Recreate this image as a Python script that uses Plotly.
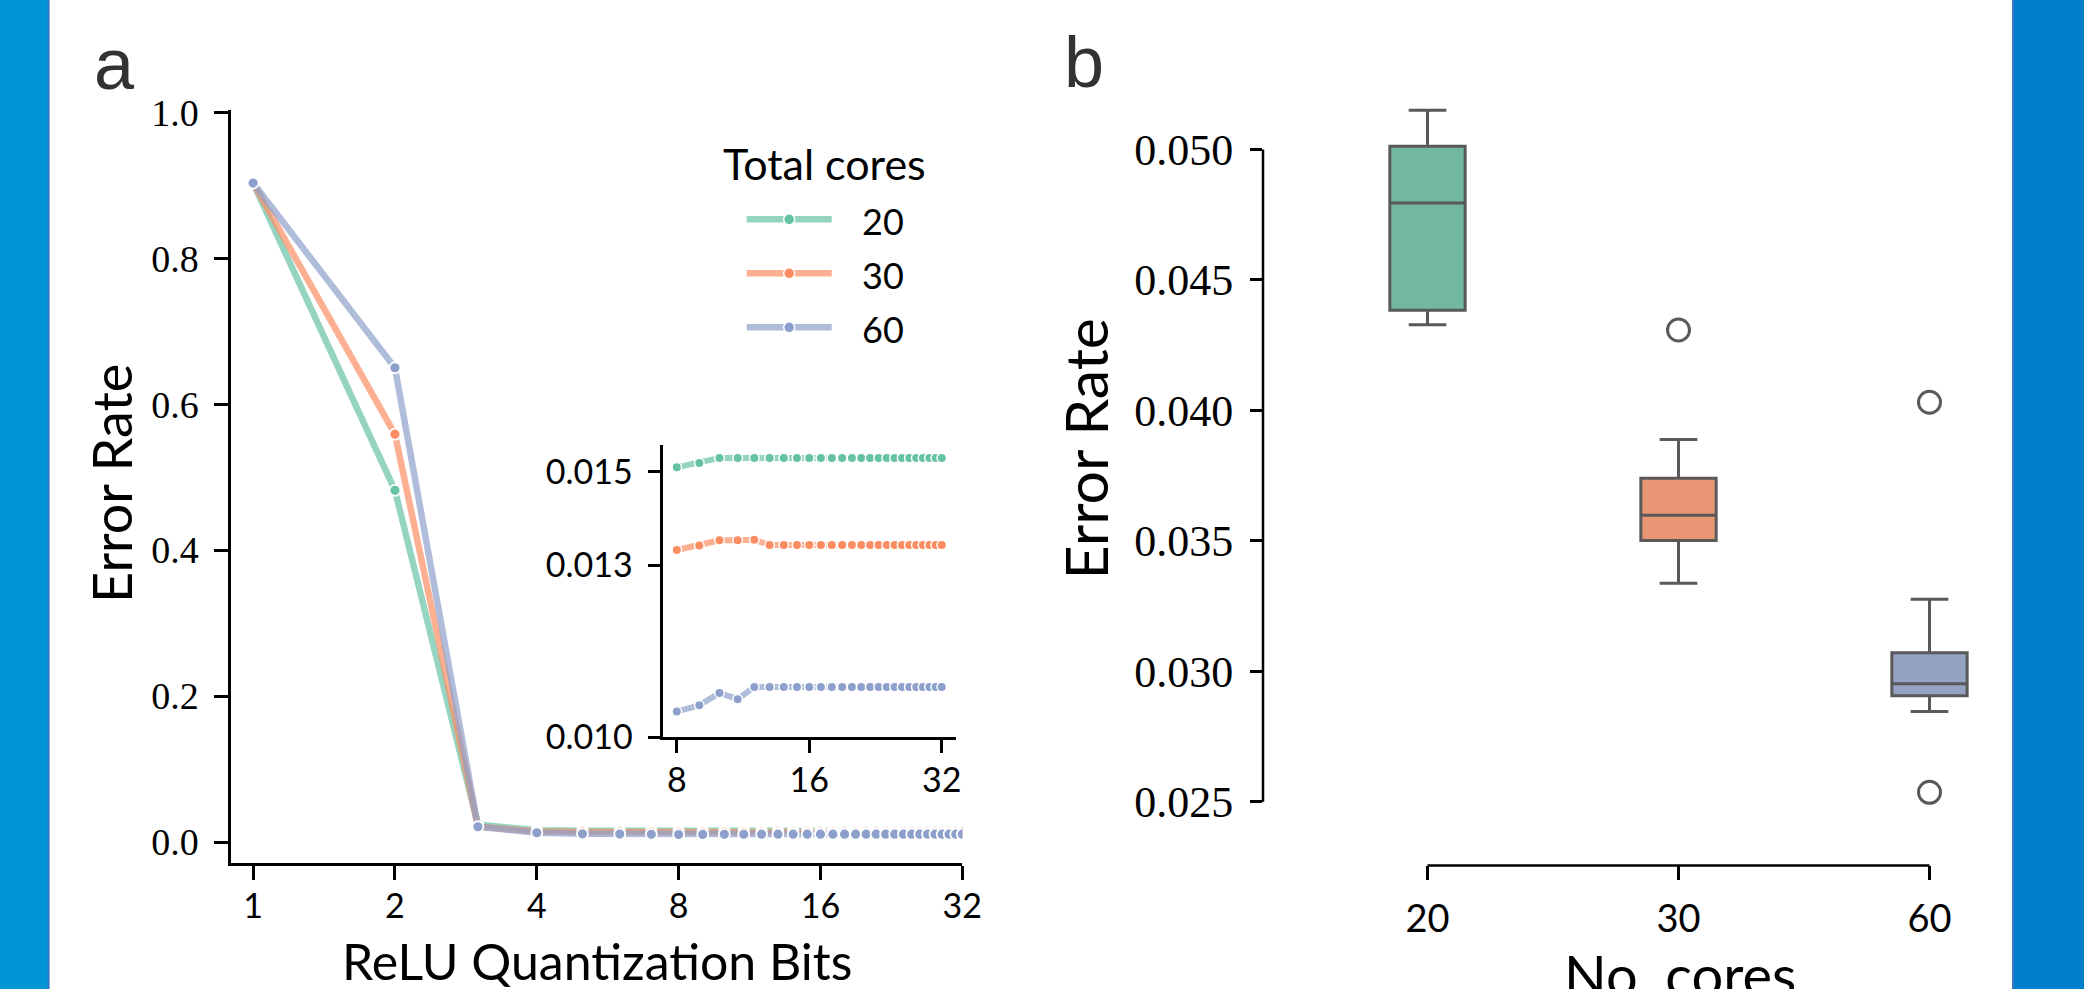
import plotly.graph_objects as go

W, H = 2084, 989

# ---------------- data ----------------
bits = [1, 2, 3, 4, 5, 6, 7, 8, 9, 10, 11, 12, 13, 14, 15, 16,
        17, 18, 19, 20, 21, 22, 23, 24, 25, 26, 27, 28, 29, 30, 31, 32]
err_20 = [0.903, 0.482, 0.024, 0.0162, 0.0157, 0.0154, 0.0152, 0.0151, 0.0152, 0.01532,
          0.01532, 0.01532, 0.01532, 0.01532, 0.01532, 0.01532, 0.01532, 0.01532, 0.01532, 0.01532,
          0.01532, 0.01532, 0.01532, 0.01532, 0.01532, 0.01532, 0.01532, 0.01532, 0.01532, 0.01532,
          0.01532, 0.01532]
err_30 = [0.903, 0.559, 0.021, 0.0145, 0.0139, 0.0136, 0.0134, 0.01331, 0.0134, 0.01351,
          0.01351, 0.01352, 0.01341, 0.01341, 0.01341, 0.01341, 0.01341, 0.01341, 0.01341, 0.01341,
          0.01341, 0.01341, 0.01341, 0.01341, 0.01341, 0.01341, 0.01341, 0.01341, 0.01341, 0.01341,
          0.01341, 0.01341]
err_60 = [0.903, 0.650, 0.021, 0.0128, 0.0114, 0.0110, 0.0106, 0.0104, 0.0105, 0.0107,
          0.0106, 0.0108, 0.0108, 0.0108, 0.0108, 0.0108, 0.0108, 0.0108, 0.0108, 0.0108,
          0.0108, 0.0108, 0.0108, 0.0108, 0.0108, 0.0108, 0.0108, 0.0108, 0.0108, 0.0108,
          0.0108, 0.0108]
series_names = ["20", "30", "60"]

main_xticks = [1, 2, 4, 8, 16, 32]
main_yticks = [0.0, 0.2, 0.4, 0.6, 0.8, 1.0]
inset_xticks = [8, 16, 32]
inset_yticks = [0.010, 0.013, 0.015]

cores = ["20", "30", "60"]
box_lo = [0.04328, 0.03337, 0.02846]
box_q1 = [0.04384, 0.03501, 0.02906]
box_med = [0.04795, 0.03598, 0.02952]
box_q3 = [0.05012, 0.03740, 0.03071]
box_hi = [0.05150, 0.03888, 0.03276]
outlier_x = ["30", "60", "60"]
outlier_y = [0.04308, 0.04031, 0.02536]
box_yticks = [0.025, 0.030, 0.035, 0.040, 0.045, 0.050]

# ---------------- style ----------------
SERIF = "Liberation Serif"
SANS = "Lato"
line_rgba = ["rgba(102,194,165,0.7)", "rgba(252,141,98,0.7)", "rgba(141,160,203,0.7)"]
marker_col = ["#66c2a5", "#fc8d62", "#8da0cb"]
box_fill = ["#71b7a1", "#e99675", "#95a3c3"]
GREY = "#595959"


def px(x):
    return x / W


def py(y):
    return 1 - y / H


fig = go.Figure()

series = [err_20, err_30, err_60]
for i, ys in enumerate(series):
    fig.add_trace(go.Scatter(
        x=bits, y=ys, mode="lines+markers", name=series_names[i],
        line=dict(color=line_rgba[i], width=6.5),
        marker=dict(color=marker_col[i], size=11, line=dict(color="white", width=1.8)),
        xaxis="x", yaxis="y", showlegend=False))
for i, ys in enumerate(series):
    fig.add_trace(go.Scatter(
        x=bits[7:], y=ys[7:], mode="lines+markers", name=series_names[i],
        line=dict(color=line_rgba[i], width=6),
        marker=dict(color=marker_col[i], size=9.5, line=dict(color="white", width=1.5)),
        xaxis="x3", yaxis="y3", showlegend=False))

for i, c in enumerate(cores):
    fig.add_trace(go.Box(
        x=[c], q1=[box_q1[i]], median=[box_med[i]], q3=[box_q3[i]],
        lowerfence=[box_lo[i]], upperfence=[box_hi[i]],
        width=0.3, whiskerwidth=0.5, fillcolor=box_fill[i],
        line=dict(color=GREY, width=3), boxpoints=False,
        xaxis="x2", yaxis="y2", showlegend=False))
fig.add_trace(go.Scatter(
    x=outlier_x, y=outlier_y, mode="markers",
    marker=dict(symbol="circle-open", size=22, color=GREY, line=dict(width=3, color=GREY)),
    xaxis="x2", yaxis="y2", showlegend=False))

axis_common = dict(showgrid=False, zeroline=False, automargin=False,
                   ticks="outside", tickcolor="black", tickwidth=2.5, linecolor="black",
                   linewidth=2.5)

fig.update_layout(
    width=W, height=H, template="none",
    margin=dict(l=0, r=0, t=0, b=0),
    paper_bgcolor="white", plot_bgcolor="rgba(0,0,0,0)",
    showlegend=False,
    xaxis=dict(axis_common, type="log", domain=[px(231), px(962.3)], range=[-0.0469, 1.50515],
               anchor="y", showline=True, ticklen=14, tickvals=main_xticks,
               ticktext=[str(v) for v in main_xticks],
               tickfont=dict(family=SANS, size=34, color="black"), ticklabelstandoff=-2),
    yaxis=dict(axis_common, domain=[py(862.9), py(110.4)], range=[-0.0285, 1.0026],
               anchor="x", showline=True, ticklen=14, tickvals=main_yticks,
               ticktext=["%.1f" % v for v in main_yticks],
               tickfont=dict(family=SERIF, size=38, color="black"), ticklabelstandoff=8),
    xaxis3=dict(axis_common, type="log", domain=[px(663.3), px(956)], range=[0.8724, 1.5375],
                anchor="y3", showline=True, ticklen=13, tickvals=inset_xticks,
                ticktext=[str(v) for v in inset_xticks],
                tickfont=dict(family=SANS, size=34, color="black"), ticklabelstandoff=-2),
    yaxis3=dict(axis_common, type="log", domain=[py(737.3), py(445)], range=[-2, -1.8062],
                anchor="x3", showline=True, ticklen=13, tickvals=inset_yticks,
                ticktext=["%.3f" % v for v in inset_yticks],
                tickfont=dict(family=SANS, size=34, color="black"), ticklabelstandoff=8),
    xaxis2=dict(axis_common, type="category", categoryorder="array", categoryarray=cores,
                domain=[px(1263), px(2000)], range=[-0.6554, 2.2809], anchor="y2",
                showline=False, ticklen=14, tickfont=dict(family=SANS, size=38, color="black"),
                ticklabelstandoff=6),
    yaxis2=dict(axis_common, domain=[py(865.4), py(100)], range=[0.022558, 0.051897],
                anchor="x2", showline=False, ticklen=12, tickvals=box_yticks,
                ticktext=["%.3f" % v for v in box_yticks],
                tickfont=dict(family=SERIF, size=44, color="black"), ticklabelstandoff=8),
)

shapes = [
    # background side bands
    dict(type="rect", xref="paper", yref="paper", x0=0, x1=px(49.3), y0=0, y1=1,
         fillcolor="#0096d6", line=dict(width=0), layer="below"),
    dict(type="line", xref="paper", yref="paper", x0=px(48.5), x1=px(48.5), y0=0, y1=1,
         line=dict(color="#3a78c0", width=2)),
    dict(type="rect", xref="paper", yref="paper", x0=px(2012.3), x1=1, y0=0, y1=1,
         fillcolor="#0080cc", line=dict(width=0), layer="below"),
    dict(type="line", xref="paper", yref="paper", x0=px(2013), x1=px(2013), y0=0, y1=1,
         line=dict(color="#3a78c0", width=2)),
    # trimmed spines of panel b
    dict(type="line", xref="x2 domain", yref="y2", x0=0, x1=0, y0=box_yticks[0], y1=box_yticks[-1],
         line=dict(color="black", width=2.5)),
    dict(type="line", xref="x2", yref="y2 domain", x0=0, x1=2, y0=0, y1=0,
         line=dict(color="black", width=2.5)),
]

# manual legend
leg_y = [219.3, 273.3, 327.3]
for i in range(3):
    shapes.append(dict(type="line", xref="paper", yref="paper", x0=px(746.7), x1=px(831.7),
                       y0=py(leg_y[i]), y1=py(leg_y[i]), line=dict(color=line_rgba[i], width=6.5)))
    r = 5.5
    shapes.append(dict(type="circle", xref="paper", yref="paper",
                       x0=px(789.2 - r), x1=px(789.2 + r), y0=py(leg_y[i] + r), y1=py(leg_y[i] - r),
                       fillcolor=marker_col[i], line=dict(color="white", width=1.5)))
fig.update_layout(shapes=shapes)

ann = [
    dict(text="a", x=px(114), y=py(64), font=dict(family="Liberation Sans", size=72, color="#333333")),
    dict(text="b", x=px(1084), y=py(62), font=dict(family="Liberation Sans", size=72, color="#333333")),
    dict(text="Error Rate", x=px(112), y=py(484), textangle=-90,
         font=dict(family=SANS, size=54, color="black")),
    dict(text="ReLU Quantization Bits", x=px(597), y=py(961),
         font=dict(family=SANS, size=50, color="black")),
    dict(text="Error Rate", x=px(1085), y=py(449.5), textangle=-90,
         font=dict(family=SANS, size=59, color="black")),
    dict(text="No. cores", x=px(1680), y=py(974),
         font=dict(family=SANS, size=56, color="black")),
    dict(text="Total cores", x=px(824.7), y=py(163),
         font=dict(family=SANS, size=43, color="black")),
]
for i in range(3):
    ann.append(dict(text=series_names[i], x=px(860), y=py(leg_y[i] + 2), xanchor="left",
                    font=dict(family=SANS, size=36, color="black")))
for a in ann:
    a.setdefault("xanchor", "center")
    a.setdefault("yanchor", "middle")
    a.update(xref="paper", yref="paper", showarrow=False)
fig.update_layout(annotations=ann)

fig.write_html("out.html")
